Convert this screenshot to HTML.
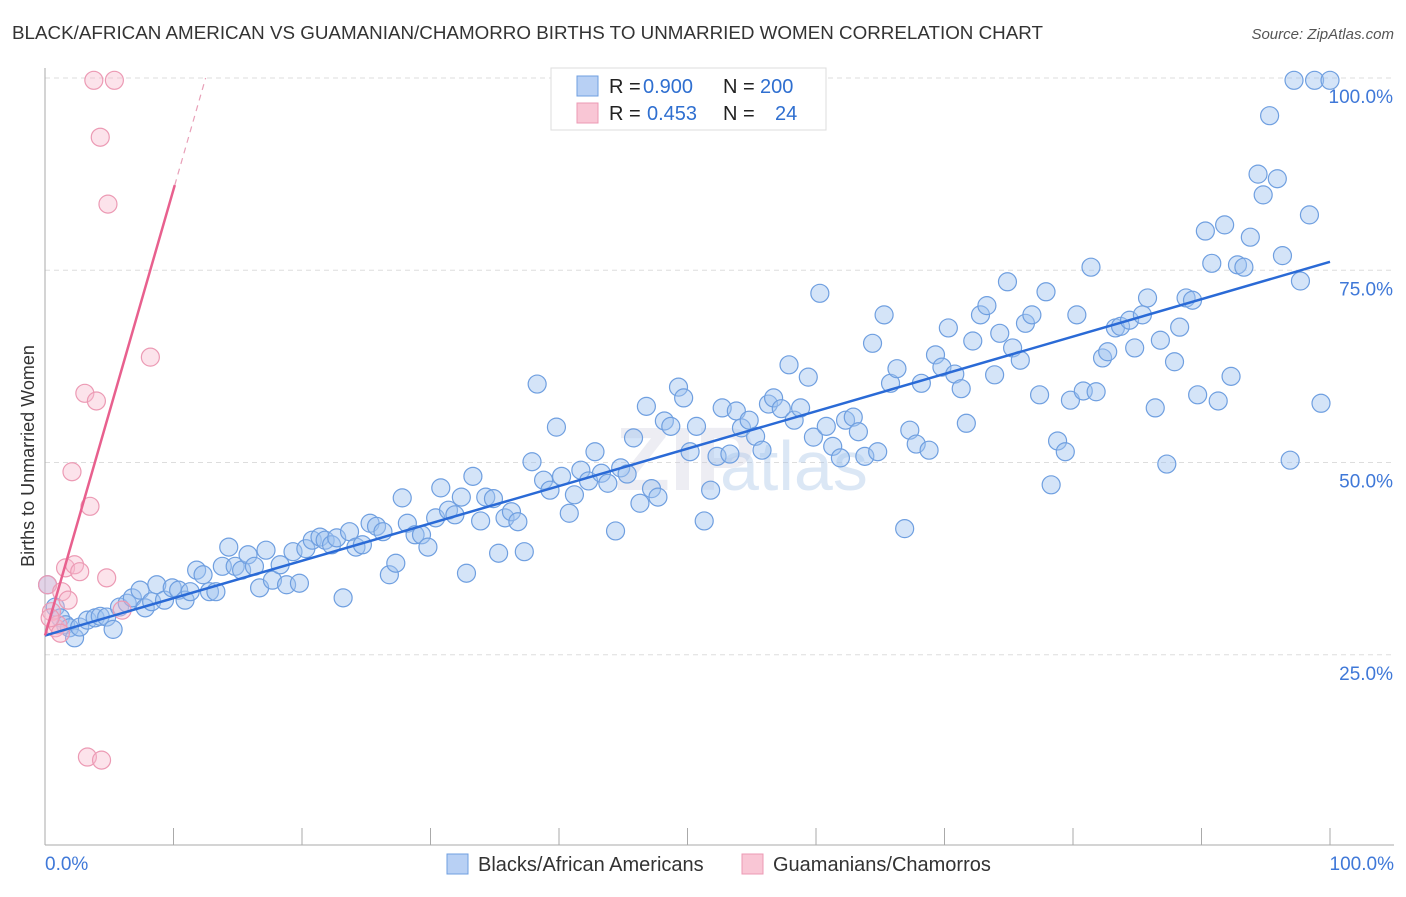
<!DOCTYPE html>
<html><head><meta charset="utf-8"><style>
body{margin:0;background:#fff;font-family:"Liberation Sans",sans-serif;}
svg text{font-family:"Liberation Sans",sans-serif;}
</style></head><body>
<svg id="chart" width="1406" height="892">
<text x="12" y="39" font-size="18" fill="#333" textLength="1031" lengthAdjust="spacingAndGlyphs">BLACK/AFRICAN AMERICAN VS GUAMANIAN/CHAMORRO BIRTHS TO UNMARRIED WOMEN CORRELATION CHART</text>
<text x="1394" y="39" font-size="15" fill="#555" font-style="italic" text-anchor="end">Source: ZipAtlas.com</text>
<text x="0" y="0" transform="translate(34,456) rotate(-90)" font-size="18" fill="#333" text-anchor="middle">Births to Unmarried Women</text>
<g id="grid"></g><g id="axes"></g>
<text x="615" y="490" font-size="90" fill="#ccd" opacity="0.35" font-weight="bold">ZIP</text>
<text x="720" y="490" font-size="70" fill="#a8c4e8" opacity="0.4">atlas</text>
<g id="pts"></g><g id="lines"></g>
<g>
<rect x="551" y="68" width="275" height="62" fill="#fff" stroke="#ddd"/>
<rect x="577" y="76" width="21" height="20" fill="#b8d0f4" stroke="#6f9fe0"/>
<rect x="577" y="103" width="21" height="20" fill="#f9c6d5" stroke="#ec9ab4"/>
<text x="609" y="93" font-size="20" fill="#222">R = <tspan fill="#2f6fd0" x="643">0.900</tspan><tspan x="723">N = </tspan><tspan fill="#2f6fd0" x="760">200</tspan></text>
<text x="609" y="120" font-size="20" fill="#222">R = <tspan fill="#2f6fd0" x="647">0.453</tspan><tspan x="723">N = </tspan><tspan fill="#2f6fd0" x="775">24</tspan></text>
</g>
<g>
<rect x="447" y="854" width="21" height="20" fill="#b8d0f4" stroke="#6f9fe0"/>
<text x="478" y="871" font-size="20" fill="#333">Blacks/African Americans</text>
<rect x="742" y="854" width="21" height="20" fill="#f9c6d5" stroke="#ec9ab4"/>
<text x="773" y="871" font-size="20" fill="#333">Guamanians/Chamorros</text>
</g>
</svg>
<script>
const blueX=[0.2,0.8,1.2,1.6,1.9,2.3,2.7,3.3,3.9,4.3,4.8,5.3,5.8,6.4,6.8,7.4,7.8,8.3,8.7,9.3,9.9,10.4,10.9,11.3,11.8,12.3,12.8,13.3,13.8,14.3,14.8,15.3,15.8,16.3,16.7,17.2,17.7,18.3,18.8,19.3,19.8,20.3,20.8,21.4,21.8,22.3,22.7,23.2,23.7,24.2,24.7,25.3,25.8,26.3,26.8,27.3,27.8,28.2,28.8,29.3,29.8,30.4,30.8,31.4,31.9,32.4,32.8,33.3,33.9,34.3,34.9,35.3,35.8,36.3,36.8,37.3,37.9,38.3,38.8,39.3,39.8,40.2,40.8,41.2,41.7,42.3,42.8,43.3,43.8,44.4,44.8,45.3,45.8,46.3,46.8,47.2,47.7,48.2,48.7,49.3,49.7,50.2,50.7,51.3,51.8,52.3,52.7,53.3,53.8,54.2,54.8,55.3,55.8,56.3,56.7,57.3,57.9,58.3,58.8,59.4,59.8,60.3,60.8,61.3,61.9,62.3,62.9,63.3,63.8,64.4,64.8,65.3,65.8,66.3,66.9,67.3,67.8,68.2,68.8,69.3,69.8,70.3,70.8,71.3,71.7,72.2,72.8,73.3,73.9,74.3,74.9,75.3,75.9,76.3,76.8,77.4,77.9,78.3,78.8,79.4,79.8,80.3,80.8,81.4,81.8,82.3,82.7,83.3,83.7,84.4,84.8,85.4,85.8,86.4,86.8,87.3,87.9,88.3,88.8,89.3,89.7,90.3,90.8,91.3,91.8,92.3,92.8,93.3,93.8,94.4,94.8,95.3,95.9,96.3,96.9,97.2,97.7,98.4,98.8,99.3,100];
const blueY=[34.1,31.2,29.8,28.9,28.5,27.2,28.6,29.5,29.8,30.0,29.9,28.3,31.2,31.7,32.4,33.4,31.1,31.9,34.1,32.1,33.7,33.4,32.1,33.2,36.0,35.4,33.2,33.2,36.5,39.0,36.5,36.0,38.0,36.5,33.7,38.6,34.7,36.7,34.1,38.4,34.3,38.8,39.9,40.3,39.9,39.3,40.2,32.4,41.0,39.0,39.3,42.1,41.7,41.0,35.4,36.9,45.4,42.1,40.6,40.6,39.0,42.8,46.7,43.8,43.2,45.5,35.6,48.2,42.4,45.5,45.3,38.2,42.8,43.6,42.3,38.4,50.1,60.2,47.7,46.4,54.6,48.2,43.4,45.8,49.0,47.6,51.4,48.6,47.3,41.1,49.3,48.5,53.2,44.7,57.3,46.6,45.5,55.4,54.7,59.8,58.4,51.4,54.7,42.4,46.4,50.8,57.1,51.1,56.7,54.5,55.5,53.4,51.6,57.6,58.4,57.0,62.7,55.5,57.1,61.1,53.3,72.0,54.7,52.1,50.6,55.5,55.9,54.0,50.8,65.5,51.4,69.2,60.3,62.2,41.4,54.2,52.4,60.3,51.6,64.0,62.4,67.5,61.5,59.6,55.1,65.8,69.2,70.4,61.4,66.8,73.5,64.9,63.3,68.1,69.2,58.8,72.2,47.1,52.8,51.4,58.1,69.2,59.3,75.4,59.2,63.6,64.4,67.5,67.7,68.5,64.9,69.2,71.4,57.1,65.9,49.8,63.1,67.6,71.4,71.1,58.8,80.1,75.9,58.0,80.9,61.2,75.7,75.4,79.3,87.5,84.8,95.1,86.9,76.9,50.3,99.7,73.6,82.2,99.7,57.7,99.7];
const pinkX=[0.2,0.5,0.8,1.0,1.3,1.6,1.8,2.1,2.3,2.7,3.1,3.3,3.5,3.8,4.0,4.3,4.4,4.8,4.9,5.4,6.0,8.2,1.2,0.4];
const pinkY=[34.1,30.6,28.5,28.9,33.2,36.3,32.1,48.8,36.7,35.8,59.0,11.7,44.3,99.7,58.0,92.3,11.3,35.0,83.6,99.7,30.8,63.7,27.8,29.8];
const blueFit=[27.5,76.1];
const pinkFit=[27.5,5.8];
const yTicks=[25,50,75,100];
const xTickLabels=["0.0%","100.0%"];
const X=v=>45+v*12.85, Y=v=>847-v*7.69;
const NS="http://www.w3.org/2000/svg";
function mk(t,a,p){const e=document.createElementNS(NS,t);for(const k in a)e.setAttribute(k,a[k]);p.appendChild(e);return e;}
const grid=document.getElementById('grid'),axes=document.getElementById('axes');
yTicks.forEach(t=>{
const l=mk('line',{x1:45,x2:1394,y1:Y(t),y2:Y(t),stroke:'#ddd','stroke-dasharray':'5,4'},grid);


const tx=mk('text',{x:1393,y:Y(t)+25,'font-size':19,fill:'#3f78d8','text-anchor':'end'},axes);
tx.textContent=t.toFixed(1)+'%';


});
const xa=mk('line',{x1:45,x2:1394,y1:845,y2:845,stroke:'#aaa'},axes);


const ya=mk('line',{x1:45,x2:45,y1:68,y2:845,stroke:'#aaa'},axes);


for(let i=0;i<=10;i++){const tk=mk('line',{x1:X(i*10),x2:X(i*10),y1:828,y2:845,stroke:'#aaa'},axes);

}
const t0=mk('text',{x:45,y:870,'font-size':19,fill:'#3f78d8'},axes);t0.textContent=xTickLabels[0];


const t1=mk('text',{x:1394,y:870,'font-size':19,fill:'#3f78d8','text-anchor':'end'},axes);t1.textContent=xTickLabels[1];


const pts=document.getElementById('pts');
blueX.forEach((x,i)=>{const c=mk('circle',{cx:X(x),cy:Y(blueY[i]),r:9,fill:'rgba(160,195,240,0.45)',stroke:'#6f9fe0','stroke-width':1.2},pts);

});
pinkX.forEach((x,i)=>{const c=mk('circle',{cx:X(x),cy:Y(pinkY[i]),r:9,fill:'rgba(248,185,205,0.4)',stroke:'#ec9ab4','stroke-width':1.2},pts);

});
const lines=document.getElementById('lines');
const bl=mk('line',{x1:X(0),y1:Y(blueFit[0]),x2:X(100),y2:Y(blueFit[1]),stroke:'#2a6ad6','stroke-width':2.5},lines);


const pe=10.1;
const pl=mk('line',{x1:X(0),y1:Y(pinkFit[0]),x2:X(pe),y2:Y(pinkFit[0]+pinkFit[1]*pe),stroke:'#e8608e','stroke-width':2.5},lines);


const pd=mk('line',{x1:X(pe),y1:Y(pinkFit[0]+pinkFit[1]*pe),x2:X(12.5),y2:Y(pinkFit[0]+pinkFit[1]*12.5),stroke:'#e8a0b8','stroke-width':1.2,'stroke-dasharray':'6,5'},lines);


</script>
</body></html>
